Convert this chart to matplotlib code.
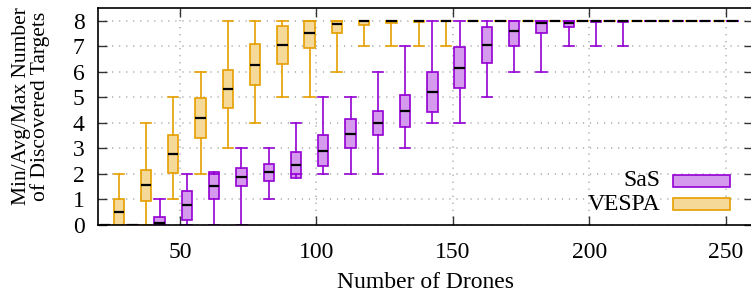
import matplotlib
matplotlib.use("Agg")
import matplotlib.pyplot as plt
from matplotlib.patches import Rectangle

plt.rcParams['font.family'] = ['Liberation Serif', 'DejaVu Serif']
plt.rcParams['font.size'] = 17

# number of drones (SaS box drawn at +2.5, VESPA at -2.5)
drones_sas = [20, 30, 40, 50, 60, 70, 80, 90, 100, 110, 120, 130, 140, 150,
              160, 170, 180, 190, 200, 210, 220, 230, 240, 250]
sas_min = [0, 0, 0, 0, 0, 0, 1, 2, 2, 2, 2, 3, 4, 4, 5, 6, 6, 7, 7, 7, 8, 8, 8, 8]
sas_lo = [0, 0, 0, 0.2, 1.0, 1.54, 1.72, 1.85, 2.31, 3.03, 3.52, 3.83, 4.41, 5.37,
          6.33, 7.02, 7.53, 7.76, 7.93, 7.96, 8, 8, 8, 8]
sas_avg = [0, 0, 0.07, 0.77, 1.54, 1.89, 2.08, 2.35, 2.91, 3.58, 4.0, 4.46, 5.22, 6.15,
           7.06, 7.6, 7.89, 7.92, 8, 8, 8, 8, 8, 8]
sas_hi = [0, 0, 0.33, 1.34, 2.06, 2.25, 2.40, 2.86, 3.52, 4.14, 4.46, 5.08, 6.0, 6.95,
          7.75, 8, 8, 8, 8, 8, 8, 8, 8, 8]
sas_max = [0, 0, 1, 2, 2, 3, 3, 4, 5, 5, 6, 7, 8, 8, 8, 8, 8, 8, 8, 8, 8, 8, 8, 8]

drones_vespa = [30, 40, 50, 60, 70, 80, 90, 100, 110, 120, 130, 140, 150,
                160, 170, 180, 190, 200, 210, 220, 230, 240, 250]
vespa_min = [0, 0, 1, 2, 3, 4, 5, 5, 6, 7, 7, 7, 7, 8, 8, 8, 8, 8, 8, 8, 8, 8, 8]
vespa_lo = [0, 0.94, 2.05, 3.39, 4.57, 5.47, 6.29, 6.92, 7.52, 7.82, 7.9, 7.95, 8,
            8, 8, 8, 8, 8, 8, 8, 8, 8, 8]
vespa_avg = [0.5, 1.55, 2.79, 4.19, 5.34, 6.28, 7.04, 7.53, 7.87, 7.98, 8, 8, 8,
             8, 8, 8, 8, 8, 8, 8, 8, 8, 8]
vespa_hi = [1.0, 2.15, 3.52, 4.97, 6.08, 7.08, 7.78, 8, 8, 8, 8, 8, 8,
            8, 8, 8, 8, 8, 8, 8, 8, 8, 8]
vespa_max = [2, 4, 5, 6, 8, 8, 8, 8, 8, 8, 8, 8, 8, 8, 8, 8, 8, 8, 8, 8, 8, 8, 8]

SAS_EDGE = '#9400d3'
SAS_FILL = '#d599ed'
VESPA_EDGE = '#e69f00'
VESPA_FILL = '#f5d999'

fig = plt.figure(figsize=(7.51, 2.95), dpi=100)
ax = fig.add_axes([98.3 / 751, 70 / 295, 654.5 / 751, 217.1 / 295])


def draw(drones, lo_w, lo, avg, hi, hi_w, shift, edge, fill):
    stats = []
    for a, b, c, d, e in zip(lo_w, lo, avg, hi, hi_w):
        stats.append(dict(whislo=a, q1=b, med=c, q3=d, whishi=e, fliers=[]))
    pos = [d + shift for d in drones]
    ax.bxp(stats, positions=pos, widths=3.8, capwidths=3.8, patch_artist=True,
           manage_ticks=False, showfliers=False,
           boxprops=dict(facecolor=fill, edgecolor=edge, linewidth=1.2),
           whiskerprops=dict(color=edge, linewidth=1.2),
           capprops=dict(color=edge, linewidth=1.2),
           medianprops=dict(color='black', linewidth=1.6))


draw(drones_sas, sas_min, sas_lo, sas_avg, sas_hi, sas_max, 2.5, SAS_EDGE, SAS_FILL)
draw(drones_vespa, vespa_min, vespa_lo, vespa_avg, vespa_hi, vespa_max, -2.5,
     VESPA_EDGE, VESPA_FILL)

ax.set_xlim(20, 260)
ax.set_ylim(0, 8.5)
ax.set_xticks([50, 100, 150, 200, 250])
ax.set_yticks(range(0, 9))
ax.tick_params(direction='in', length=6.5, width=1, top=True, right=True,
               color='#333333')
ax.tick_params(axis='x', pad=12)
ax.tick_params(axis='y', pad=10)
ax.grid(True, color='#aaaaaa', linestyle=(0, (0.8, 3.8)), linewidth=1.1)
ax.set_axisbelow(True)
for s in ax.spines.values():
    s.set_linewidth(1.2)

ax.set_xlabel('Number of Drones', labelpad=7)
fig.text(31 / 751, 1 - 106 / 295, 'Min/Avg/Max Number\nof Discovered Targets',
         rotation=90, ha='center', va='center', linespacing=0.95, fontsize=15.5)

# legend (key box on the right, text right-aligned)
for i, (name, edge, fill) in enumerate([('SaS', SAS_EDGE, SAS_FILL),
                                        ('VESPA', VESPA_EDGE, VESPA_FILL)]):
    y0 = 175 + i * 23.3
    x0 = (673 - 98.3) / 654.5
    w = 57 / 654.5
    ax.add_patch(Rectangle((x0, (225 - y0 - 11.7) / 217.1), w, 11.7 / 217.1,
                           transform=ax.transAxes, facecolor=fill, edgecolor=edge,
                           linewidth=1.2, zorder=5))
    ax.text((660 - 98.3) / 654.5, (225 - y0 - 6) / 217.1, name,
            transform=ax.transAxes, ha='right', va='center', zorder=5)

fig.savefig('out.png', dpi=100)
